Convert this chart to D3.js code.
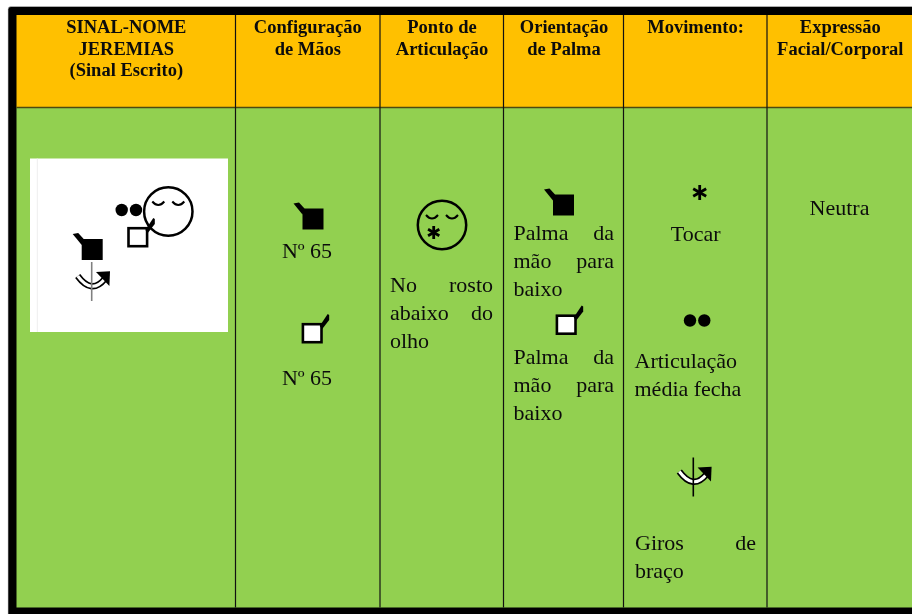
<!DOCTYPE html>
<html lang="pt">
<head>
<meta charset="utf-8">
<title>Sinal-nome Jeremias</title>
<script src="https://cdn.jsdelivr.net/npm/d3@7"></script>
<style>
    html, body { margin: 0; padding: 0; background: #fff; overflow: hidden; }
    svg { display: block; filter: blur(0.35px); }
    text { font-family: "Liberation Serif", "Times New Roman", serif; fill: #0c0c0c; }
    .head { font-size: 18.5px; font-weight: bold; }
    .body { font-size: 22px; }
</style>
</head>
<body>
<svg id="chart" width="912" height="614"></svg>
<script>
// table content
const HEADERS = [
    ["SINAL-NOME", "JEREMIAS", "(Sinal Escrito)"],
    ["Configuração", "de Mãos"],
    ["Ponto de", "Articulação"],
    ["Orientação", "de Palma"],
    ["Movimento:"],
    ["Expressão", "Facial/Corporal"]
];
const HAND_NUMBER = ["Nº 65"];
const LOCATION = ["No rosto", "abaixo do", "olho"];
const PALM = ["Palma da", "mão para", "baixo"];
const TOUCH = ["Tocar"];
const JOINT = ["Articulação", "média fecha"];
const ARM_TURN = ["Giros de", "braço"];
const EXPRESSION = ["Neutra"];

// layout, all in page pixels
const WIDTH = 912;
const HEIGHT = 614;
const LEFT = 16.5;
const TOP = 15;
const BOTTOM = 607.5;
const HEADER_BOTTOM = 107.5;
const COL_LINES = [235.5, 380, 503.5, 623.5, 767];
const HEADER_CENTERS = [126.3, 307.8, 442, 564, 695.5, 840.3];
const HEADER_BASELINES = [32.7, 54.5, 76];
const LINE_H = 28;

const ORANGE = "#FFC000";
const GREEN = "#92D050";

const svg = d3.select("#chart");

// black frame, slightly rounded at the corner
svg.append("rect")
    .attr("x", 8).attr("y", 6.5)
    .attr("width", WIDTH).attr("height", HEIGHT)
    .attr("rx", 3)
    .attr("fill", "#000")
    .attr("stroke", "#ccc")
    .attr("stroke-width", 0.6);

svg.append("rect")
    .attr("x", LEFT).attr("y", TOP)
    .attr("width", WIDTH - LEFT).attr("height", HEADER_BOTTOM - TOP)
    .attr("fill", ORANGE);
svg.append("rect")
    .attr("x", LEFT).attr("y", HEADER_BOTTOM)
    .attr("width", WIDTH - LEFT).attr("height", BOTTOM - HEADER_BOTTOM)
    .attr("fill", GREEN);

svg.append("line")
    .attr("x1", LEFT).attr("x2", WIDTH)
    .attr("y1", HEADER_BOTTOM).attr("y2", HEADER_BOTTOM)
    .attr("stroke", "#4a4a12")
    .attr("stroke-width", 1.6);

svg.selectAll(".col-line")
    .data(COL_LINES)
    .join("line")
    .attr("class", "col-line")
    .attr("x1", d => d).attr("x2", d => d)
    .attr("y1", TOP).attr("y2", BOTTOM)
    .attr("stroke", "#111")
    .attr("stroke-width", 1.2);

// header labels
svg.selectAll(".head-cell")
    .data(HEADERS)
    .join("g")
    .attr("class", "head-cell")
    .attr("transform", (d, i) => `translate(${HEADER_CENTERS[i]},0)`)
    .selectAll("text")
    .data(d => d)
    .join("text")
    .attr("class", "head")
    .attr("text-anchor", "middle")
    .attr("y", (d, i) => HEADER_BASELINES[i])
    .text(d => d);

// body text. Word doc look: justified lines stretch from x to x2
const BLOCKS = [
    { lines: HAND_NUMBER, x: 307, y: 257.5, anchor: "middle" },
    { lines: HAND_NUMBER, x: 307, y: 385, anchor: "middle" },
    { lines: LOCATION, x: 390, x2: 493, y: 291.5 },
    { lines: PALM, x: 513.5, x2: 614, y: 240 },
    { lines: PALM, x: 513.5, x2: 614, y: 364 },
    { lines: TOUCH, x: 695.7, y: 240.5, anchor: "middle" },
    { lines: JOINT, x: 634.5, y: 368 },
    { lines: ARM_TURN, x: 635, x2: 756, y: 550 },
    { lines: EXPRESSION, x: 839.5, y: 214.5, anchor: "middle" }
];

BLOCKS.forEach(block => {
    const last = block.lines.length - 1;
    const sel = svg.append("g").selectAll("text")
        .data(block.lines)
        .join("text")
        .attr("class", "body")
        .attr("x", block.x)
        .attr("y", (d, i) => block.y + i * LINE_H)
        .attr("text-anchor", block.anchor || "start")
        .text(d => d);

    if (block.x2) {
        sel.each(function (d, i) {
            const gaps = d.split(" ").length - 1;
            if (i === last || !gaps) return;
            const extra = block.x2 - block.x - this.getComputedTextLength();
            d3.select(this).attr("word-spacing", extra / gaps);
        });
    }
});

// white panel with the written sign
svg.append("rect")
    .attr("x", 30).attr("y", 158.5)
    .attr("width", 198).attr("height", 173.5)
    .attr("fill", "#fff");
svg.append("line")
    .attr("x1", 37.3).attr("x2", 37.3)
    .attr("y1", 158.5).attr("y2", 332)
    .attr("stroke", "#eee");

// SignWriting glyphs
function handBlack(x, y) {
    const g = svg.append("g").attr("transform", `translate(${x},${y})`);
    g.append("rect").attr("width", 21).attr("height", 21).attr("fill", "#000");
    g.append("path")
        .attr("d", "M-9 -5 L-3.5 -6 L2 0 L0 6 Z")
        .attr("fill", "#000");
}

function handWhite(x, y) {
    const g = svg.append("g").attr("transform", `translate(${x},${y})`);
    g.append("rect")
        .attr("x", 1.2).attr("y", 1.2)
        .attr("width", 18.6).attr("height", 18)
        .attr("fill", "#fff")
        .attr("stroke", "#000")
        .attr("stroke-width", 2.6);
    g.append("path")
        .attr("d", "M18 3 L26 -9 L27.5 -8 L27.5 -3 L20.5 6 Z")
        .attr("fill", "#000");
}

function star(x, y, r) {
    const g = svg.append("g")
        .attr("transform", `translate(${x},${y})`)
        .attr("stroke", "#000")
        .attr("stroke-width", 2.8);
    [90, 30, 150].forEach(a => {
        const dx = r * Math.cos(a * Math.PI / 180);
        const dy = r * Math.sin(a * Math.PI / 180);
        g.append("line").attr("x1", -dx).attr("y1", -dy).attr("x2", dx).attr("y2", dy);
    });
}

function face(x, y) {
    const g = svg.append("g")
        .attr("transform", `translate(${x},${y})`)
        .attr("fill", "none")
        .attr("stroke", "#000");
    g.append("circle").attr("r", 24.2).attr("stroke-width", 2.5);
    [-10, 10].forEach(dx => {
        g.append("path")
            .attr("d", `M${dx - 6} -10 Q${dx} -3 ${dx + 6} -10`)
            .attr("stroke-width", 2);
    });
}

function dots(x, y) {
    svg.append("g")
        .attr("transform", `translate(${x},${y})`)
        .selectAll("circle")
        .data([0, 14.3])
        .join("circle")
        .attr("cx", d => d)
        .attr("r", 6.2)
        .attr("fill", "#000");
}

function armTurn(x, y, ink) {
    const g = svg.append("g").attr("transform", `translate(${x},${y})`);
    const arc = "M-14 14 Q0 33 13 17";
    g.append("path").attr("d", arc).attr("fill", "none")
        .attr("stroke", "#000").attr("stroke-width", 6.4);
    g.append("path").attr("d", arc).attr("fill", "none")
        .attr("stroke", "#fff").attr("stroke-width", 3);
    g.append("line")
        .attr("y2", 39)
        .attr("stroke", ink)
        .attr("stroke-width", 1.6);
    g.append("path")
        .attr("d", "M18.3 9.3 L4.3 10 L17.7 24 Z")
        .attr("fill", "#000");
}

// inside the panel
face(168.3, 211.5);
dots(121.7, 210);
handWhite(127.3, 227);
handBlack(81.7, 239);
armTurn(91.7, 262, "#808080");

// column by column
handBlack(302.5, 208.5);
handWhite(301.7, 323);
face(442, 225);
star(433.7, 232.5, 6.5);
handBlack(553, 194.5);
handWhite(555.7, 314.5);
star(699.7, 192.5, 7.5);
dots(690, 320.5);
armTurn(693.3, 457.5, "#000");
</script>
</body>
</html>
